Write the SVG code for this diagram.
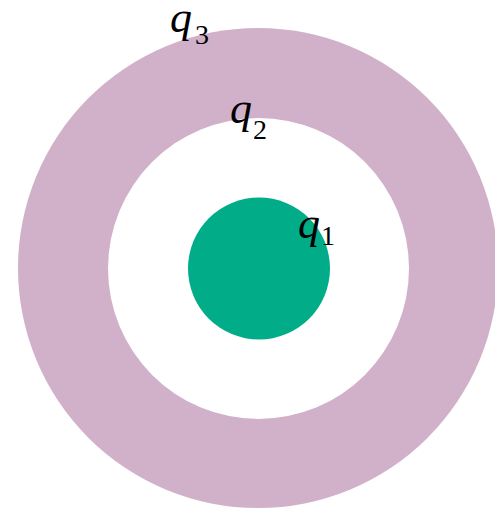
<svg xmlns="http://www.w3.org/2000/svg" width="495" height="510" viewBox="0 0 495 510">
<style>
.q{font-family:"Liberation Serif","Times New Roman",serif;font-style:italic;font-size:44px;fill:#000}
.s{font-family:"Liberation Serif","Times New Roman",serif;font-size:28px;fill:#000}
</style>
<rect width="495" height="510" fill="#fff"/>
<g id="ring3"><circle cx="258" cy="268" r="240" fill="#d1b1c9"/></g>
<g id="ring2"><circle cx="258.5" cy="268.5" r="150.5" fill="#fff"/></g>
<g id="core1"><circle cx="259" cy="268.5" r="71" fill="#00ad88"/></g>
<g id="labels">
<text class="q" x="170" y="32">q</text><text class="s" x="195" y="44">3</text>
<text class="q" x="230" y="123">q</text><text class="s" x="253" y="139">2</text>
<text class="q" x="298" y="238">q</text><text class="s" x="321" y="245">1</text>
</g>
</svg>
